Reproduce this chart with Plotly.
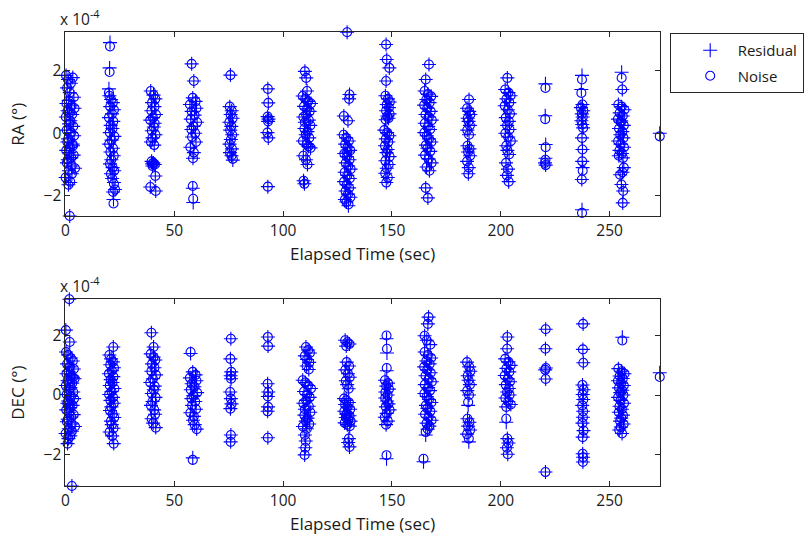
import plotly.graph_objects as go

# Elapsed time (sec) and right-ascension errors, in units of 1e-4 degrees
RA_TIME = [
    0.3, 1.2, 2.5, 3.4, 0.8, 2.0, 3.9, 1.5, 0.5, 2.8, 4.2, 1.0, 3.1, 0.2, 2.3, 1.7, 3.6, 0.6, 2.6, 4.0, 1.3, 0.9, 3.3, 2.1, 0.4, 1.8, 3.8, 2.7, 1.1, 0.7, 2.9, 4.4, 1.6, 3.0, 0.1, 2.2, 1.4, 3.5, 1.9, 2.0,
    20.5, 20.3, 20.0, 20.2, 21.0, 21.8, 20.6, 22.3, 21.4, 20.0, 22.0, 20.8, 21.6, 20.4, 22.5, 21.2, 20.1, 21.9, 20.7, 22.2, 21.1, 20.5, 21.7, 22.4, 20.9, 21.5, 22.3, 22.8, 21.9, 22.1,
    39.2, 40.5, 41.3, 39.8, 40.9, 39.5, 41.6, 40.2, 39.0, 41.0, 40.6, 39.7, 41.4, 40.0, 39.3, 40.8, 39.6, 40.4, 41.1, 40.0, 39.9, 41.3, 39.0, 41.5,
    58.0, 59.0, 58.5, 59.8, 57.2, 60.2, 58.0, 59.3, 57.6, 60.5, 58.8, 57.9, 59.6, 58.2, 60.0, 57.4, 59.0, 58.6, 58.5, 58.7,
    75.8, 75.5, 76.4, 75.9, 76.8, 75.3, 76.2, 75.7, 76.6, 76.0, 75.4, 76.5, 75.6, 76.3, 76.9,
    93.0, 93.2, 92.9, 93.3, 93.1, 92.8, 93.2, 93.0,
    110.0, 110.6, 111.0, 109.0, 110.2, 111.5, 112.8, 109.6, 111.0, 112.2, 110.6, 109.3, 111.8, 110.0, 112.5, 109.8, 111.2, 110.4, 112.0, 109.1, 110.9, 111.6, 112.6, 109.3, 110.5, 111.2, 109.4, 109.8,
    129.4, 130.5, 130.3, 127.9, 129.8, 127.8, 129.0, 130.2, 128.5, 129.6, 130.8, 128.1, 129.3, 130.5, 128.8, 129.9, 131.0, 128.3, 129.5, 130.6, 128.0, 129.2, 130.3, 128.7, 129.8, 130.9, 128.4, 129.1, 130.0, 129.4,
    147.3, 147.6, 148.8, 147.3, 147.0, 148.2, 149.0, 147.6, 148.6, 147.3, 148.9, 147.9, 148.4, 147.1, 146.5, 147.8, 148.8, 147.2, 148.3, 146.8, 148.0, 147.5, 148.9, 147.0, 148.5, 147.6, 146.9, 148.1, 147.4,
    167.0, 165.5, 165.0, 166.5, 168.0, 165.8, 167.3, 164.8, 166.2, 167.8, 165.4, 166.9, 168.3, 165.1, 166.6, 167.5, 164.9, 166.0, 167.0, 168.1, 165.6, 166.3, 167.6, 165.2, 166.8, 168.2, 165.9, 167.2, 165.5, 166.5,
    185.4, 184.5, 185.5, 186.0, 184.8, 185.2, 185.8, 184.6, 185.4, 184.7, 185.6, 185.0, 185.9, 184.5, 185.3, 185.1,
    203.0, 202.0, 203.5, 204.5, 202.6, 203.9, 201.8, 203.2, 204.2, 202.3, 203.7, 202.9, 204.0, 202.1, 203.4, 204.6, 202.5, 203.0, 203.8, 202.4, 203.3, 202.8, 203.6,
    220.5, 220.4, 220.6, 220.5, 220.3, 220.6,
    237.3, 237.0, 237.5, 236.8, 237.9, 237.2, 237.6, 237.0, 237.4, 237.8, 237.3, 237.5, 237.4, 237.6, 237.2, 237.3,
    255.5, 255.8, 254.0, 255.5, 256.8, 254.6, 256.0, 253.8, 255.2, 256.5, 254.3, 255.8, 254.9, 256.3, 253.9, 255.0, 256.6, 254.5, 255.6, 254.2, 256.1, 255.3, 256.5, 255.9, 254.8, 255.4, 256.2, 256.0,
    273.0,
]
RA_NOISE = [
    1.85, 1.72, 1.60, 1.78, 1.45, 1.30, 1.15, 1.05, 0.95, 0.88, 0.80, 0.72, 0.60, 0.52, 0.40, 0.30, 0.22, 0.10, 0.02, -0.08, -0.18, -0.28, -0.35, -0.45, -0.55, -0.62, -0.70, -0.78, -0.85, -0.95, -1.05, -1.12, -1.20, -1.30, -1.42, -1.55, -1.65, -0.40, 0.65, -2.65,
    2.78, 1.96, 1.30, 1.20, 1.08, 0.98, 0.85, 0.75, 0.62, 0.50, 0.38, 0.25, 0.15, 0.02, -0.10, -0.22, -0.35, -0.48, -0.60, -0.72, -0.85, -0.98, -1.10, -1.20, -1.30, -1.45, -1.62, -1.80, -1.88, -2.25,
    1.35, 1.22, 1.10, 0.98, 0.85, 0.72, 0.60, 0.50, 0.42, 0.32, 0.20, 0.08, -0.05, -0.15, -0.28, -0.38, -0.90, -0.95, -1.00, -1.05, -0.98, -1.37, -1.72, -1.85,
    2.22, 1.67, 1.13, 1.02, 0.92, 0.80, 0.70, 0.58, 0.45, 0.35, 0.22, 0.12, 0.00, -0.12, -0.28, -0.45, -0.62, -0.80, -1.69, -2.10,
    1.86, 0.85, 0.72, 0.60, 0.48, 0.35, 0.22, 0.10, -0.05, -0.20, -0.35, -0.50, -0.62, -0.72, -0.82,
    1.42, 0.97, 0.53, 0.45, 0.38, 0.02, -0.15, -1.71,
    1.98, 1.77, 1.35, 1.19, 1.10, 1.02, 0.95, 0.86, 0.78, 0.70, 0.60, 0.52, 0.42, 0.35, 0.25, 0.15, 0.05, -0.05, -0.15, -0.25, -0.35, -0.42, -0.47, -0.72, -0.85, -1.00, -1.52, -1.62,
    3.23, 1.24, 1.10, 0.55, 0.40, -0.05, -0.15, -0.25, -0.35, -0.45, -0.55, -0.65, -0.75, -0.85, -0.95, -1.05, -1.15, -1.25, -1.35, -1.45, -1.55, -1.65, -1.75, -1.85, -1.95, -2.05, -2.12, -2.20, -2.28, -0.60,
    2.84, 2.36, 2.09, 1.67, 1.20, 1.10, 1.00, 0.92, 0.82, 0.72, 0.62, 0.55, 0.48, 0.43, 0.10, 0.02, -0.08, -0.18, -0.28, -0.40, -0.52, -0.62, -0.75, -0.88, -1.00, -1.12, -1.28, -1.42, -1.58,
    2.20, 1.72, 1.35, 1.25, 1.18, 1.08, 0.98, 0.90, 0.80, 0.70, 0.60, 0.52, 0.42, 0.32, 0.22, 0.12, 0.02, -0.08, -0.18, -0.28, -0.38, -0.48, -0.58, -0.70, -0.82, -0.95, -1.08, -1.20, -1.75, -2.07,
    1.08, 0.80, 0.70, 0.60, 0.48, 0.38, 0.25, 0.10, -0.05, -0.40, -0.50, -0.60, -0.72, -0.90, -1.10, -1.30,
    1.77, 1.40, 1.30, 1.20, 1.10, 0.98, 0.88, 0.75, 0.62, 0.50, 0.38, 0.25, 0.12, 0.00, -0.12, -0.25, -0.40, -0.55, -0.68, -0.95, -1.15, -1.35, -1.55,
    1.45, 0.45, -0.45, -0.85, -0.95, -1.02,
    1.72, 1.29, 0.92, 0.82, 0.72, 0.62, 0.52, 0.40, 0.28, 0.17, -0.15, -0.52, -0.90, -1.20, -1.48, -2.55,
    1.77, 1.40, 0.92, 0.85, 0.75, 0.65, 0.55, 0.45, 0.35, 0.25, 0.15, 0.05, -0.05, -0.15, -0.25, -0.35, -0.45, -0.55, -0.65, -0.72, -0.79, 0.40, -1.10, -1.25, -1.33, -1.64, -1.85, -2.23,
    -0.10,
]
RA_RESIDUAL = [
    1.85, 1.72, 1.60, 1.78, 1.45, 1.30, 1.15, 1.05, 0.95, 0.88, 0.80, 0.72, 0.60, 0.52, 0.40, 0.30, 0.22, 0.10, 0.02, -0.08, -0.18, -0.28, -0.35, -0.45, -0.55, -0.62, -0.70, -0.78, -0.85, -0.95, -1.05, -1.12, -1.20, -1.30, -1.42, -1.58, -1.65, -0.40, 0.65, -2.65,
    2.90, 2.09, 1.42, 1.20, 1.08, 0.98, 0.85, 0.75, 0.62, 0.50, 0.38, 0.25, 0.15, 0.02, -0.10, -0.22, -0.35, -0.48, -0.60, -0.72, -0.85, -0.98, -1.10, -1.20, -1.30, -1.45, -1.58, -1.80, -1.88, -2.12,
    1.35, 1.22, 1.10, 0.98, 0.85, 0.72, 0.60, 0.50, 0.42, 0.32, 0.20, 0.08, -0.05, -0.15, -0.28, -0.38, -0.90, -0.95, -1.00, -1.05, -0.98, -1.37, -1.72, -1.85,
    2.22, 1.67, 1.13, 1.02, 0.92, 0.80, 0.70, 0.58, 0.45, 0.35, 0.22, 0.12, 0.00, -0.12, -0.28, -0.45, -0.62, -0.80, -1.76, -2.22,
    1.86, 0.85, 0.72, 0.60, 0.48, 0.35, 0.22, 0.10, -0.05, -0.20, -0.35, -0.50, -0.62, -0.72, -0.86,
    1.42, 0.97, 0.53, 0.45, 0.38, 0.02, -0.15, -1.71,
    1.98, 1.77, 1.35, 1.19, 1.10, 1.02, 0.95, 0.86, 0.78, 0.70, 0.60, 0.52, 0.42, 0.35, 0.25, 0.15, 0.05, -0.05, -0.15, -0.25, -0.35, -0.42, -0.47, -0.72, -0.85, -1.00, -1.52, -1.62,
    3.23, 1.24, 1.10, 0.55, 0.40, -0.05, -0.15, -0.25, -0.35, -0.45, -0.55, -0.65, -0.75, -0.85, -0.95, -1.05, -1.15, -1.25, -1.35, -1.45, -1.55, -1.65, -1.75, -1.85, -1.95, -2.05, -2.12, -2.20, -2.32, -0.60,
    2.84, 2.36, 2.09, 1.67, 1.20, 1.10, 1.00, 0.92, 0.82, 0.72, 0.62, 0.55, 0.48, 0.43, 0.10, 0.02, -0.08, -0.18, -0.28, -0.40, -0.52, -0.62, -0.75, -0.88, -1.00, -1.12, -1.28, -1.42, -1.58,
    2.20, 1.72, 1.35, 1.25, 1.18, 1.08, 0.98, 0.90, 0.80, 0.70, 0.60, 0.52, 0.42, 0.32, 0.22, 0.12, 0.02, -0.08, -0.18, -0.28, -0.38, -0.48, -0.58, -0.70, -0.82, -0.95, -1.08, -1.20, -1.75, -2.07,
    1.08, 0.80, 0.70, 0.60, 0.48, 0.38, 0.25, 0.10, -0.05, -0.40, -0.50, -0.60, -0.72, -0.90, -1.10, -1.30,
    1.77, 1.40, 1.30, 1.20, 1.10, 0.98, 0.88, 0.75, 0.62, 0.50, 0.38, 0.25, 0.12, 0.00, -0.12, -0.25, -0.40, -0.55, -0.68, -0.95, -1.15, -1.35, -1.55,
    1.58, 0.56, -0.36, -0.80, -0.95, -1.02,
    1.85, 1.40, 0.92, 0.82, 0.72, 0.62, 0.52, 0.40, 0.28, 0.17, -0.15, -0.52, -0.90, -1.10, -1.48, -2.45,
    1.95, 1.40, 0.92, 0.85, 0.75, 0.65, 0.55, 0.45, 0.35, 0.25, 0.15, 0.05, -0.05, -0.15, -0.25, -0.35, -0.45, -0.55, -0.65, -0.72, -0.79, 0.40, -1.10, -1.25, -1.33, -1.64, -1.85, -2.23,
    0.00,
]

# Elapsed time (sec) and declination errors, in units of 1e-4 degrees
DEC_TIME = [
    1.8, 0.2, 2.0, 0.3, 1.2, 2.5, 3.4, 0.8, 2.0, 3.9, 1.5, 0.5, 2.8, 4.2, 1.0, 3.1, 0.2, 2.3, 1.7, 3.6, 0.6, 2.6, 4.0, 1.3, 0.9, 3.3, 2.1, 0.4, 1.8, 3.8, 2.7, 1.1, 0.7, 2.9, 4.4, 1.6, 3.0, 0.1, 2.2, 1.4, 3.5, 1.9, 1.0, 3.0,
    22.0, 20.2, 21.0, 21.8, 20.6, 22.3, 21.4, 20.0, 22.0, 20.8, 21.6, 20.4, 22.5, 21.2, 20.1, 21.9, 20.7, 22.2, 21.1, 20.5, 21.7, 22.4, 20.9, 21.3, 22.1, 20.3, 21.5, 22.2,
    39.5, 40.5, 39.2, 40.5, 41.3, 39.8, 40.9, 39.5, 41.6, 40.2, 39.0, 41.0, 40.6, 39.7, 41.4, 40.0, 39.3, 40.8, 41.2, 39.6, 40.3, 41.5,
    57.5, 58.5, 59.8, 57.2, 60.2, 58.0, 59.3, 57.6, 60.5, 58.8, 57.9, 59.6, 58.2, 60.0, 57.4, 59.0, 58.6, 59.4, 60.3, 58.5,
    76.0, 75.8, 76.2, 75.9, 76.1, 75.7, 76.0, 76.3, 75.8, 76.0, 75.9,
    93.0, 93.1, 92.9, 93.2, 93.0, 93.1, 92.9, 93.0,
    110.5, 111.5, 112.3, 110.0, 111.0, 112.0, 110.8, 111.8, 109.0, 110.2, 111.5, 112.8, 109.6, 111.0, 112.2, 110.6, 109.3, 111.8, 110.0, 112.5, 109.8, 111.2, 110.4, 112.0, 109.1, 110.9, 110.0, 110.4, 110.2, 109.9,
    128.5, 129.5, 130.5, 129.0, 129.2, 130.3, 128.6, 129.8, 130.6, 128.8, 129.4, 130.1, 128.0, 129.0, 130.2, 128.5, 129.6, 130.8, 128.1, 129.3, 130.5, 128.8, 129.9, 131.0, 128.3, 129.5, 130.6, 129.1, 130.2, 129.9, 130.5,
    147.5, 147.7, 147.6, 146.8, 148.2, 147.4, 148.6, 147.0, 148.0, 146.9, 147.8, 148.4, 147.2, 148.9, 147.6, 146.7, 148.1, 147.3, 147.5,
    166.8, 166.5, 165.0, 166.0, 167.6, 165.0, 166.5, 168.0, 165.8, 167.3, 164.8, 166.2, 167.8, 165.4, 166.9, 168.3, 165.1, 166.6, 167.5, 164.9, 166.0, 167.0, 168.1, 165.6, 166.3, 167.6, 165.2, 166.8, 168.2, 165.9, 167.2, 166.4, 165.5, 164.5,
    184.5, 185.5, 186.0, 184.8, 185.2, 185.8, 184.6, 185.4, 185.0, 184.7, 185.6, 185.0, 185.9, 184.5, 185.3,
    203.0, 202.9, 202.0, 203.5, 204.5, 202.6, 203.9, 201.8, 203.2, 204.2, 202.3, 203.7, 202.9, 204.0, 202.1, 203.4, 204.6, 202.5, 202.5, 203.0, 203.5, 202.8, 203.2,
    220.6, 220.5, 220.7, 220.4, 220.6, 220.5,
    237.8, 237.7, 237.9, 237.5, 238.0, 237.6, 237.9, 237.4, 237.8, 237.7, 237.5, 238.0, 237.6, 237.6, 237.8, 237.7,
    255.8, 254.0, 255.5, 256.8, 254.6, 256.0, 253.8, 255.2, 256.5, 254.3, 255.8, 254.9, 256.3, 253.9, 255.0, 256.6, 254.5, 255.6, 254.2, 256.1, 255.3, 254.8, 256.4, 255.1, 254.4, 255.7,
    273.0,
]
DEC_NOISE = [
    3.23, 2.19, 1.79, 1.45, 1.35, 1.25, 1.15, 1.05, 0.95, 0.88, 0.80, 0.72, 0.65, 0.55, 0.48, 0.40, 0.32, 0.25, 0.18, 0.10, 0.02, -0.05, -0.12, -0.20, -0.28, -0.35, -0.42, -0.50, -0.58, -0.66, -0.74, -0.82, -0.90, -0.98, -1.06, -1.14, -1.22, -1.30, -1.38, -1.47, 0.60, -0.30, -1.64, -3.07,
    1.62, 1.35, 1.22, 1.12, 1.02, 0.92, 0.82, 0.72, 0.62, 0.52, 0.42, 0.32, 0.22, 0.12, 0.02, -0.08, -0.18, -0.28, -0.40, -0.52, -0.64, -0.76, -0.88, -1.00, -1.12, -1.25, -1.38, -1.64,
    2.10, 1.62, 1.39, 1.28, 1.18, 1.05, 0.92, 0.80, 0.68, 0.55, 0.42, 0.30, 0.18, 0.05, -0.08, -0.22, -0.35, -0.50, -0.65, -0.80, -0.95, -1.10,
    1.45, 0.78, 0.68, 0.58, 0.48, 0.38, 0.28, 0.18, 0.08, -0.02, -0.12, -0.22, -0.35, -0.48, -0.60, -0.72, -0.85, -1.00, -1.15, -2.19,
    1.90, 1.22, 0.78, 0.65, 0.55, 0.10, -0.12, -0.30, -0.46, -1.35, -1.58,
    1.96, 1.65, 0.38, 0.10, -0.05, -0.40, -0.55, -1.44,
    1.62, 1.52, 1.42, 1.32, 1.20, 1.10, 0.98, 0.86, 0.50, 0.42, 0.32, 0.22, 0.12, 0.02, -0.08, -0.18, -0.28, -0.38, -0.48, -0.58, -0.68, -0.78, -0.88, -0.98, -1.06, -1.14, -1.35, -1.55, -1.78, -2.02,
    1.85, 1.78, 1.72, 1.65, 1.11, 0.98, 0.85, 0.72, 0.60, 0.48, 0.35, 0.21, -0.12, -0.18, -0.25, -0.32, -0.40, -0.48, -0.55, -0.62, -0.70, -0.76, -0.82, -0.88, -0.94, -1.00, -1.05, -0.65, -1.47, -1.60, -1.75,
    2.01, 1.56, 0.91, 0.50, 0.40, 0.30, 0.20, 0.10, 0.00, -0.10, -0.20, -0.30, -0.40, -0.50, -0.62, -0.75, -0.88, -1.00, -2.03,
    2.63, 2.40, 2.00, 1.85, 1.70, 1.45, 1.35, 1.25, 1.15, 1.05, 0.95, 0.85, 0.75, 0.65, 0.55, 0.45, 0.35, 0.25, 0.15, 0.05, -0.05, -0.15, -0.25, -0.35, -0.45, -0.55, -0.65, -0.75, -0.85, -0.95, -1.05, -1.15, -1.25, -2.15,
    1.11, 0.95, 0.80, 0.65, 0.50, 0.35, 0.15, 0.00, -0.24, -0.80, -0.92, -1.05, -1.18, -1.32, -1.47,
    1.96, 1.56, 1.22, 1.12, 1.00, 0.90, 0.78, 0.66, 0.55, 0.45, 0.35, 0.22, 0.10, 0.00, -0.10, -0.22, -0.32, -0.40, -0.80, -1.47, -1.62, -1.78, -2.00,
    2.22, 1.56, 0.91, 0.85, 0.54, -2.60,
    2.40, 1.54, 1.09, 0.34, 0.18, 0.02, -0.15, -0.35, -0.55, -0.75, -0.95, -1.20, -1.42, -1.98, -2.10, -2.26,
    1.84, 0.89, 0.80, 0.72, 0.64, 0.56, 0.48, 0.40, 0.32, 0.24, 0.16, 0.08, 0.00, -0.08, -0.18, -0.28, -0.38, -0.48, -0.58, -0.68, -0.78, -0.88, -0.98, -1.08, -1.18, -1.30,
    0.61,
]
DEC_RESIDUAL = [
    3.23, 2.19, 1.79, 1.45, 1.35, 1.25, 1.15, 1.05, 0.95, 0.88, 0.80, 0.72, 0.65, 0.55, 0.48, 0.40, 0.32, 0.25, 0.18, 0.10, 0.02, -0.05, -0.12, -0.20, -0.28, -0.35, -0.42, -0.50, -0.58, -0.66, -0.74, -0.82, -0.90, -0.98, -1.06, -1.14, -1.22, -1.30, -1.38, -1.47, 0.60, -0.30, -1.64, -3.07,
    1.62, 1.35, 1.22, 1.12, 1.02, 0.92, 0.82, 0.72, 0.62, 0.52, 0.42, 0.32, 0.22, 0.12, 0.02, -0.08, -0.18, -0.28, -0.40, -0.52, -0.64, -0.76, -0.88, -1.00, -1.12, -1.25, -1.38, -1.64,
    2.10, 1.62, 1.39, 1.28, 1.18, 1.05, 0.92, 0.80, 0.68, 0.55, 0.42, 0.30, 0.18, 0.05, -0.08, -0.22, -0.35, -0.50, -0.65, -0.80, -0.95, -1.10,
    1.40, 0.78, 0.68, 0.58, 0.48, 0.38, 0.28, 0.18, 0.08, -0.02, -0.12, -0.22, -0.35, -0.48, -0.60, -0.72, -0.85, -1.00, -1.15, -2.12,
    1.90, 1.22, 0.78, 0.65, 0.55, 0.10, -0.12, -0.30, -0.46, -1.35, -1.58,
    1.96, 1.65, 0.38, 0.10, -0.05, -0.40, -0.55, -1.44,
    1.62, 1.52, 1.42, 1.32, 1.20, 1.10, 0.98, 0.86, 0.50, 0.42, 0.32, 0.22, 0.12, 0.02, -0.08, -0.18, -0.28, -0.38, -0.48, -0.58, -0.68, -0.78, -0.88, -0.98, -1.06, -1.14, -1.35, -1.55, -1.78, -2.02,
    1.85, 1.78, 1.72, 1.65, 1.11, 0.98, 0.85, 0.72, 0.60, 0.48, 0.35, 0.21, -0.12, -0.18, -0.25, -0.32, -0.40, -0.48, -0.55, -0.62, -0.70, -0.76, -0.82, -0.88, -0.94, -1.00, -1.05, -0.65, -1.47, -1.60, -1.75,
    1.90, 1.42, 0.82, 0.50, 0.40, 0.30, 0.20, 0.10, 0.00, -0.10, -0.20, -0.30, -0.40, -0.50, -0.62, -0.75, -0.88, -1.00, -2.15,
    2.63, 2.40, 2.00, 1.85, 1.70, 1.45, 1.35, 1.25, 1.15, 1.05, 0.95, 0.85, 0.75, 0.65, 0.55, 0.45, 0.35, 0.25, 0.15, 0.05, -0.05, -0.15, -0.25, -0.35, -0.45, -0.55, -0.65, -0.75, -0.85, -0.95, -1.05, -1.15, -1.35, -2.25,
    1.11, 0.95, 0.80, 0.65, 0.50, 0.35, 0.15, 0.00, -0.35, -0.80, -0.92, -1.05, -1.18, -1.32, -1.58,
    1.96, 1.56, 1.22, 1.12, 1.00, 0.90, 0.78, 0.66, 0.55, 0.45, 0.35, 0.22, 0.10, 0.00, -0.10, -0.22, -0.32, -0.40, -0.92, -1.47, -1.62, -1.78, -2.00,
    2.22, 1.56, 0.91, 0.85, 0.54, -2.60,
    2.40, 1.54, 1.09, 0.34, 0.18, 0.02, -0.15, -0.35, -0.55, -0.75, -0.95, -1.20, -1.42, -1.98, -2.10, -2.26,
    1.95, 0.89, 0.80, 0.72, 0.64, 0.56, 0.48, 0.40, 0.32, 0.24, 0.16, 0.08, 0.00, -0.08, -0.18, -0.28, -0.38, -0.48, -0.58, -0.68, -0.78, -0.88, -0.98, -1.08, -1.18, -1.30,
    0.75,
]

X_TICKS = [0, 50, 100, 150, 200, 250]
Y_TICKS = [-2, 0, 2]
X_RANGE = [0, 273]
RA_RANGE = [-2.65, 3.23]
DEC_RANGE = [-3.07, 3.23]

assert len(RA_TIME) == len(RA_NOISE) == len(RA_RESIDUAL)
assert len(DEC_TIME) == len(DEC_NOISE) == len(DEC_RESIDUAL)

BLUE = "#0000ff"
FONT = "Open Sans"
TEXT = "#1a1a1a"
W, H = 809, 540

fig = go.Figure()


def add_panel(t, res, noise, xa, ya, show):
    fig.add_trace(go.Scatter(
        x=t, y=res, mode="markers", name="Residual", xaxis=xa, yaxis=ya,
        showlegend=show, legendgroup="res", cliponaxis=False,
        marker=dict(symbol="cross-thin", size=10, color=BLUE,
                    line=dict(color=BLUE, width=1.1)),
    ))
    fig.add_trace(go.Scatter(
        x=t, y=noise, mode="markers", name="Noise", xaxis=xa, yaxis=ya,
        showlegend=show, legendgroup="noise", cliponaxis=False,
        marker=dict(symbol="circle-open", size=9, color=BLUE,
                    line=dict(color=BLUE, width=1.1)),
    ))


add_panel(RA_TIME, RA_RESIDUAL, RA_NOISE, "x", "y", True)
add_panel(DEC_TIME, DEC_RESIDUAL, DEC_NOISE, "x2", "y2", False)

x0, x1 = 61.7 / W, 659 / W
top_dom = [1 - 216 / H, 1 - 32.3 / H]
bot_dom = [1 - 486 / H, 1 - 299.3 / H]

title_font = dict(family=FONT, size=17, color=TEXT)
axis_common = dict(
    showline=True, linecolor="#262626", linewidth=1, mirror="ticks",
    ticks="inside", ticklen=5, tickcolor="#262626", showgrid=False,
    zeroline=False, tickfont=dict(family=FONT, size=15.5, color=TEXT),
)
xcommon = dict(axis_common, range=X_RANGE, tickvals=X_TICKS,
               title=dict(text="Elapsed Time (sec)", font=title_font, standoff=8))

fig.update_layout(
    width=W, height=H, margin=dict(l=0, r=0, t=0, b=0),
    paper_bgcolor="white", plot_bgcolor="white",
    xaxis=dict(xcommon, domain=[x0, x1], anchor="y"),
    yaxis=dict(axis_common, domain=top_dom, range=RA_RANGE, tickvals=Y_TICKS,
               anchor="x", title=dict(text="RA (°)", font=title_font, standoff=14)),
    xaxis2=dict(xcommon, domain=[x0, x1], anchor="y2"),
    yaxis2=dict(axis_common, domain=bot_dom, range=DEC_RANGE, tickvals=Y_TICKS,
                anchor="x2", title=dict(text="DEC (°)", font=title_font, standoff=14)),
    legend=dict(
        x=669 / W, y=1 - 33 / H, xanchor="left", yanchor="top",
        bordercolor="#262626", borderwidth=1, bgcolor="white",
        font=dict(family=FONT, size=15, color=TEXT),
        tracegroupgap=3, indentation=12, itemwidth=45, entrywidth=120,
    ),
    showlegend=True,
)

for ypos in (1 - 18 / H, 1 - 285 / H):
    fig.add_annotation(
        x=x0 - 0.009, y=ypos, xref="paper", yref="paper",
        xanchor="left", yanchor="middle", showarrow=False,
        text="x 10<sup>-4</sup>",
        font=dict(family=FONT, size=15.5, color=TEXT),
    )

fig.write_html("out.html")
